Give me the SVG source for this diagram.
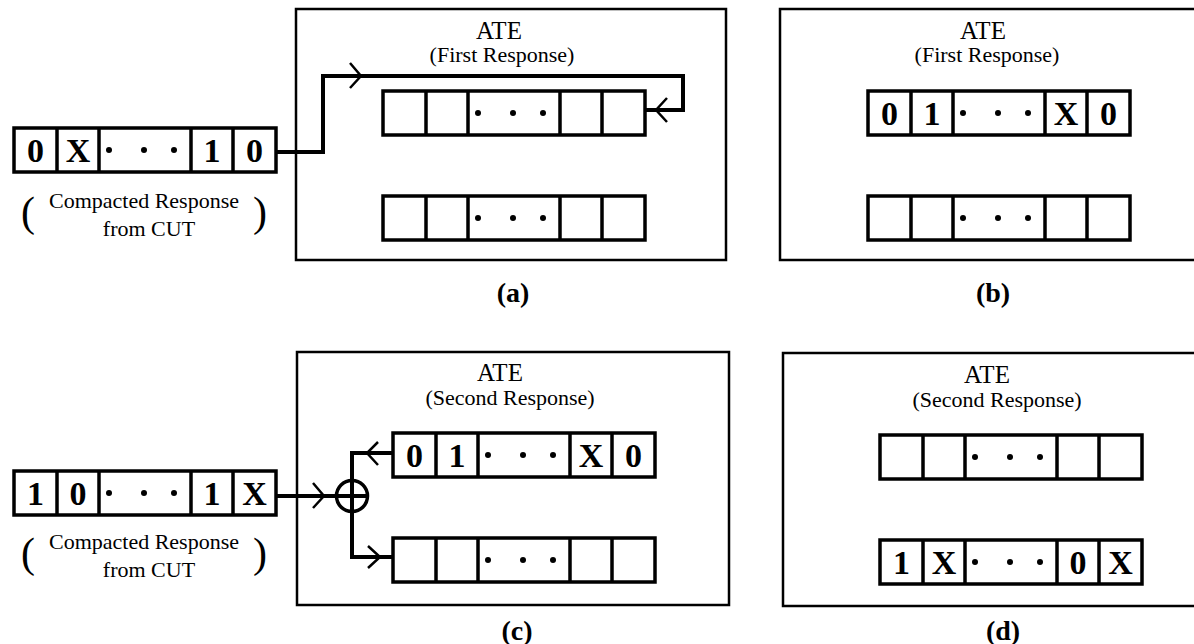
<svg xmlns="http://www.w3.org/2000/svg" xmlns:xlink="http://www.w3.org/1999/xlink" width="1194" height="644" viewBox="0 0 1194 644">
<style>
.box{fill:none;stroke:#000;stroke-width:2.5}
.reg{fill:#fff;stroke:#000;stroke-width:3.5}
.div{stroke:#000;stroke-width:3.5;fill:none}
.wire{fill:none;stroke:#000;stroke-width:4}
.chev{fill:none;stroke:#000;stroke-width:2.5}
.dig{font-family:"Liberation Serif","Times New Roman",serif;font-weight:bold;font-size:34px;text-anchor:middle;fill:#000}
.t1{font-family:"Liberation Serif","Times New Roman",serif;font-size:25px;text-anchor:middle;fill:#000}
.t2{font-family:"Liberation Serif","Times New Roman",serif;font-size:22px;text-anchor:middle;fill:#000}
.cap{font-family:"Liberation Serif","Times New Roman",serif;font-size:22px;text-anchor:middle;fill:#000}
.par{font-family:"Liberation Serif","Times New Roman",serif;font-size:42px;text-anchor:middle;fill:#000}
.lab{font-family:"Liberation Serif","Times New Roman",serif;font-weight:bold;font-size:28px;text-anchor:middle;fill:#000}
</style>
<defs>
<g id="reg">
<rect class="reg" x="0" y="0" width="262" height="44"/>
<path class="div" d="M43 0V44M85 0V44M177 0V44M219 0V44"/>
<circle cx="95" cy="22" r="3"/><circle cx="130" cy="22" r="3"/><circle cx="160" cy="22" r="3"/>
</g>
</defs>
<rect width="1194" height="644" fill="#fff"/>

<g id="ate-a">
<rect class="box" x="296" y="9" width="430" height="251"/>
<text class="t1" x="499" y="39">ATE</text>
<text class="t2" x="502" y="62">(First Response)</text>
</g>
<g id="ate-b">
<rect class="box" x="780" y="9" width="430" height="251"/>
<text class="t1" x="983" y="39">ATE</text>
<text class="t2" x="987" y="62">(First Response)</text>
</g>
<g id="ate-c">
<rect class="box" x="297" y="352" width="432" height="253"/>
<text class="t1" x="500" y="381">ATE</text>
<text class="t2" x="510" y="405">(Second Response)</text>
</g>
<g id="ate-d">
<rect class="box" x="783" y="353" width="430" height="253"/>
<text class="t1" x="987" y="383">ATE</text>
<text class="t2" x="997" y="407">(Second Response)</text>
</g>

<g id="connectors">
<polyline class="wire" points="276,152 323,152 323,76 683,76 683,110 645,110"/>
<polyline class="chev" points="350,63 361,76 350,88"/>
<polyline class="chev" points="667,98 656,110 667,122"/>
<line class="wire" x1="277" y1="496" x2="336" y2="496"/>
<polyline class="chev" points="313,483 324,496 313,508"/>
<polyline class="wire" points="393,453 352,453 352,557 393,557"/>
<polyline class="chev" points="378,442 367,453 378,465"/>
<polyline class="chev" points="368,546 380,557 368,568"/>
</g>

<g id="xor">
<circle cx="352" cy="496" r="15.5" fill="none" stroke="#000" stroke-width="3.5"/>
<line class="wire" x1="336" y1="496" x2="368" y2="496" stroke-width="3"/>
</g>

<g id="reg-a-in">
<use xlink:href="#reg" x="14" y="128"/>
<text class="dig" x="35.5" y="162">0</text><text class="dig" x="78" y="162">X</text>
<text class="dig" x="212" y="162">1</text><text class="dig" x="254.5" y="162">0</text>
</g>
<g id="cap-a">
<text class="cap" x="144" y="208">Compacted Response</text>
<text class="cap" x="149" y="236">from CUT</text>
<text class="par" x="28" y="226">(</text>
<text class="par" x="260" y="226">)</text>
</g>
<g id="reg-a-top"><use xlink:href="#reg" x="383" y="91"/></g>
<g id="reg-a-bot"><use xlink:href="#reg" x="383" y="196"/></g>

<g id="reg-b-top">
<use xlink:href="#reg" x="868" y="91"/>
<text class="dig" x="889.5" y="125">0</text><text class="dig" x="932" y="125">1</text>
<text class="dig" x="1066" y="125">X</text><text class="dig" x="1108.5" y="125">0</text>
</g>
<g id="reg-b-bot"><use xlink:href="#reg" x="868" y="196"/></g>

<g id="reg-c-in">
<use xlink:href="#reg" x="14" y="471"/>
<text class="dig" x="35.5" y="505">1</text><text class="dig" x="78" y="505">0</text>
<text class="dig" x="212" y="505">1</text><text class="dig" x="254.5" y="505">X</text>
</g>
<g id="cap-c">
<text class="cap" x="144" y="549">Compacted Response</text>
<text class="cap" x="149" y="577">from CUT</text>
<text class="par" x="28" y="567">(</text>
<text class="par" x="260" y="567">)</text>
</g>
<g id="reg-c-top">
<use xlink:href="#reg" x="393" y="433"/>
<text class="dig" x="414.5" y="467">0</text><text class="dig" x="457" y="467">1</text>
<text class="dig" x="591" y="467">X</text><text class="dig" x="633.5" y="467">0</text>
</g>
<g id="reg-c-bot"><use xlink:href="#reg" x="393" y="538"/></g>

<g id="reg-d-top"><use xlink:href="#reg" x="880" y="435"/></g>
<g id="reg-d-bot">
<use xlink:href="#reg" x="880" y="540"/>
<text class="dig" x="901.5" y="574">1</text><text class="dig" x="944" y="574">X</text>
<text class="dig" x="1078" y="574">0</text><text class="dig" x="1120.5" y="574">X</text>
</g>

<g id="labels">
<text class="lab" x="513" y="302">(a)</text>
<text class="lab" x="993" y="302">(b)</text>
<text class="lab" x="517" y="640">(c)</text>
<text class="lab" x="1003" y="640">(d)</text>
</g>
</svg>
